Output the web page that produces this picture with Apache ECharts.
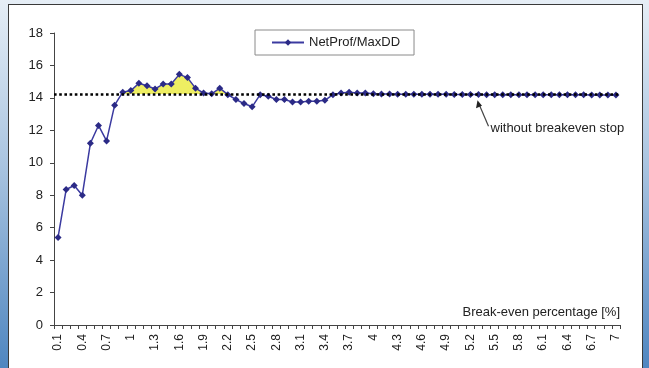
<!DOCTYPE html>
<html>
<head>
<meta charset="utf-8">
<script src="https://cdn.jsdelivr.net/npm/echarts@6/dist/echarts.min.js"></script>
<style>
html,body{margin:0;padding:0;width:649px;height:368px;overflow:hidden;}
body{background:linear-gradient(to bottom,#e6eef6 0%,#a9c4e0 45%,#4f86c0 100%);position:relative;}
#panel{position:absolute;left:8px;top:4px;width:635px;height:370px;background:#fff;border:1px solid #3a3a3a;box-sizing:border-box;}
#chart{position:absolute;left:0;top:0;width:649px;height:368px;}
</style>
</head>
<body>
<div id="panel"></div>
<div id="chart"></div>
<script>
const categories = ["0.1","0.2","0.3","0.4","0.5","0.6","0.7","0.8","0.9","1",
"1.1","1.2","1.3","1.4","1.5","1.6","1.7","1.8","1.9","2",
"2.1","2.2","2.3","2.4","2.5","2.6","2.7","2.8","2.9","3",
"3.1","3.2","3.3","3.4","3.5","3.6","3.7","3.8","3.9","4",
"4.1","4.2","4.3","4.4","4.5","4.6","4.7","4.8","4.9","5",
"5.1","5.2","5.3","5.4","5.5","5.6","5.7","5.8","5.9","6",
"6.1","6.2","6.3","6.4","6.5","6.6","6.7","6.8","6.9","7"];
const netProfMaxDD = [5.4,8.35,8.6,8.0,11.2,12.3,11.35,13.55,14.35,14.45,
14.9,14.75,14.55,14.85,14.85,15.45,15.25,14.6,14.3,14.25,
14.6,14.2,13.9,13.65,13.45,14.2,14.1,13.9,13.9,13.75,
13.75,13.8,13.8,13.85,14.2,14.3,14.35,14.3,14.3,14.25,
14.24,14.24,14.23,14.23,14.23,14.22,14.22,14.22,14.22,14.21,
14.21,14.21,14.21,14.2,14.2,14.2,14.2,14.2,14.2,14.2,
14.19,14.19,14.19,14.19,14.19,14.19,14.18,14.18,14.18,14.18];
const withoutBreakeven = 14.22;
const yTicks = {min:0, max:18, interval:2};
const seriesName = "NetProf/MaxDD";
const xAxisTitle = "Break-even percentage [%]";
const annotationText = "without breakeven stop";

const font = "'Liberation Sans', Arial, sans-serif";
const chart = echarts.init(document.getElementById('chart'), null, {renderer:'canvas'});
chart.setOption({
  animation:false,
  backgroundColor:'transparent',
  textStyle:{fontFamily:font},
  grid:{left:54, right:29, top:33, bottom:43},
  legend:{
    data:[seriesName],
    left:255, top:30, width:160, height:27,
    padding:[6,14,6,16],
    itemWidth:32, itemHeight:8, itemGap:4,
    borderColor:'#8a8a8a', borderWidth:1, backgroundColor:'#fff',
    textStyle:{fontFamily:font, fontSize:13, color:'#222'}
  },
  xAxis:{
    type:'category', data:categories, boundaryGap:true,
    name:xAxisTitle, nameLocation:'end', nameGap:0,
    nameTextStyle:{fontFamily:font, fontSize:13, color:'#222', align:'right', verticalAlign:'bottom', padding:[0,0,6,0]},
    axisLine:{lineStyle:{color:'#444', width:1}},
    axisTick:{show:true, interval:0, length:4, lineStyle:{color:'#444'}},
    axisLabel:{interval:2, rotate:90, margin:9, fontSize:12, color:'#222', fontFamily:font},
    splitLine:{show:false}
  },
  yAxis:{
    type:'value', min:yTicks.min, max:yTicks.max, interval:yTicks.interval,
    axisLine:{show:true, lineStyle:{color:'#444', width:1}},
    axisTick:{show:true, length:4, lineStyle:{color:'#444'}},
    axisLabel:{fontSize:13, color:'#222', margin:11, fontFamily:font},
    splitLine:{show:false}
  },
  visualMap:{
    show:false, type:'piecewise', seriesIndex:0, dimension:1,
    pieces:[{gte:withoutBreakeven, lte:yTicks.max, color:'#eeee62'},{gte:yTicks.min, lt:withoutBreakeven, color:'rgba(255,255,255,0)'}],
    outOfRange:{color:'rgba(255,255,255,0)'}
  },
  series:[
    {
      name:'fill', type:'line', data:netProfMaxDD, symbol:'none', silent:true,
      lineStyle:{width:0, opacity:0},
      areaStyle:{origin:withoutBreakeven, opacity:1},
      z:1,
      markLine:{
        silent:true, symbol:'none',
        lineStyle:{color:'#000', type:[2.6,2.6], width:2.6},
        label:{show:false},
        data:[{yAxis:withoutBreakeven}]
      }
    },
    {
      name:seriesName, type:'line', data:netProfMaxDD,
      symbol:'diamond', symbolSize:7, showAllSymbol:true,
      itemStyle:{color:'#2b2a86'},
      lineStyle:{color:'#3b3aa0', width:1.5},
      z:3
    }
  ]
});

// annotation: arrow pointing at the no-breakeven level
const tip = chart.convertToPixel({gridIndex:0}, [52, withoutBreakeven]);
chart.setOption({
  graphic:[
    {type:'line', shape:{x1:tip[0]+10, y1:tip[1]+32, x2:tip[0]+1, y2:tip[1]+11},
     style:{stroke:'#444', lineWidth:1.2}, z:10},
    {type:'polygon', shape:{points:[[tip[0]-1,tip[1]+6],[tip[0]-2.5,tip[1]+14],[tip[0]+3.5,tip[1]+11.5]]},
     style:{fill:'#222'}, z:10},
    {type:'text', x:tip[0]+12, y:tip[1]+34,
     style:{text:annotationText, font:'13px ' + font, fill:'#222', textVerticalAlign:'middle'}, z:10}
  ]
});
</script>
</body>
</html>
